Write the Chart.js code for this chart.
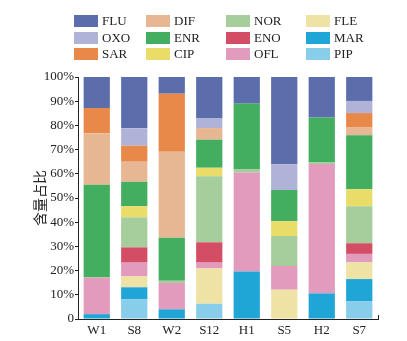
<!DOCTYPE html>
<html>
<head>
<meta charset="utf-8">
<script src="https://cdn.jsdelivr.net/npm/chart.js@4/dist/chart.umd.min.js"></script>
<style>
  html, body { margin: 0; padding: 0; background: #fff; }
  #wrap { position: relative; width: 407px; height: 341px; }
  #legend { position: absolute; left: 0; top: 0; width: 407px; height: 70px; }
  .item { position: absolute; height: 12px; font: 13px "Liberation Serif", serif; color: #222; line-height: 12px; white-space: nowrap; }
  .item span.box { display: inline-block; width: 24px; height: 12px; vertical-align: top; margin-right: 4px; }
  canvas { position: absolute; left: 0; top: 0; }
</style>
</head>
<body>
<div id="wrap">
  <canvas id="myChart" width="407" height="341"></canvas>
  <div id="legend"></div>
</div>
<script>
// samples
const sites = ["W1", "S8", "W2", "S12", "H1", "S5", "H2", "S7"];

// percentages per compound, one value per site (stacked from PIP at bottom to FLU at top)
const PIP = [0, 8.1, 0, 6.3, 0, 0, 0, 7.4];
const MAR = [2.0, 5.0, 4.0, 0, 19.6, 0, 10.6, 9.1];
const FLE = [0, 4.5, 0, 14.6, 0, 12.1, 0, 6.9];
const OFL = [15.0, 5.7, 10.9, 2.4, 40.9, 9.8, 53.4, 3.5];
const ENO = [0, 6.3, 0, 8.4, 0, 0, 0, 4.4];
const NOR = [0.3, 12.4, 0.9, 27.3, 1.5, 12.4, 0.7, 15.3];
const CIP = [0, 4.6, 0, 3.5, 0, 6.1, 0, 7.0];
const ENR = [38.2, 10.1, 17.8, 11.6, 27.0, 12.9, 18.6, 22.3];
const DIF = [21.2, 8.3, 35.5, 4.8, 0, 0, 0, 3.2];
const SAR = [10.5, 6.6, 24.0, 0, 0, 0, 0, 6.0];
const OXO = [0, 7.2, 0, 4.0, 0, 10.6, 0, 5.0];
const FLU = [12.8, 21.2, 6.9, 17.1, 11.0, 36.1, 16.7, 9.9];

const yTicks = [0, 10, 20, 30, 40, 50, 60, 70, 80, 90, 100];

const series = [
  { label: "PIP", data: PIP, color: "#88cde9" },
  { label: "MAR", data: MAR, color: "#1fa6d6" },
  { label: "FLE", data: FLE, color: "#eee3a5" },
  { label: "OFL", data: OFL, color: "#e29bbd" },
  { label: "ENO", data: ENO, color: "#d34e64" },
  { label: "NOR", data: NOR, color: "#a6cd9c" },
  { label: "CIP", data: CIP, color: "#e9dc68" },
  { label: "ENR", data: ENR, color: "#43ae5f" },
  { label: "DIF", data: DIF, color: "#e7b693" },
  { label: "SAR", data: SAR, color: "#e8894a" },
  { label: "OXO", data: OXO, color: "#aeb3d7" },
  { label: "FLU", data: FLU, color: "#5b6eab" }
];

// legend: column-major, top-left is FLU
function buildLegend() {
  let legend = document.getElementById("legend");
  let order = series.slice().reverse();
  let colX = [74, 146, 226, 306];
  let rowY = [15, 31.5, 48];
  order.forEach((s, i) => {
    let col = Math.floor(i / 3), row = i % 3;
    let div = document.createElement("div");
    div.className = "item";
    div.style.left = colX[col] + "px";
    div.style.top = rowY[row] + "px";
    div.innerHTML = '<span class="box" style="background:' + s.color + '"></span>' + s.label;
    legend.appendChild(div);
  });
}

const serif = { family: "'Liberation Serif', serif", size: 13 };

// small upward tick at the right end of the x axis
const axisEnd = {
  id: "axisEnd",
  afterDraw(chart) {
    let { ctx, chartArea } = chart;
    ctx.save();
    ctx.strokeStyle = "#222";
    ctx.lineWidth = 1;
    ctx.beginPath();
    ctx.moveTo(chartArea.right + 0.5, chartArea.bottom);
    ctx.lineTo(chartArea.right + 0.5, chartArea.bottom - 4);
    ctx.stroke();
    ctx.restore();
  }
};

function render() {
  let ctx = document.getElementById("myChart").getContext("2d");
  new Chart(ctx, {
    type: "bar",
    data: {
      labels: sites,
      datasets: series.map((s) => ({
        label: s.label,
        data: s.data,
        backgroundColor: s.color,
        borderWidth: 0,
        barPercentage: 0.7,
        categoryPercentage: 1.0
      }))
    },
    options: {
      responsive: false,
      animation: false,
      layout: { padding: { top: 77, right: 29, left: 0, bottom: 0 } },
      plugins: { legend: { display: false }, tooltip: { enabled: false } },
      scales: {
        x: {
          stacked: true,
          grid: { display: false, drawTicks: false },
          border: { color: "#222", width: 1 },
          ticks: { color: "#222", font: serif, padding: 4 },
          afterFit: (scale) => { scale.height = 22; }
        },
        y: {
          stacked: true,
          min: 0,
          max: 100,
          afterBuildTicks: (scale) => { scale.ticks = yTicks.map((v) => ({ value: v })); },
          grid: { display: true, drawOnChartArea: false, drawTicks: true, tickLength: 3, color: "#222" },
          border: { color: "#222", width: 1 },
          ticks: {
            color: "#222",
            font: serif,
            padding: 1,
            callback: (v) => (v === 0 ? "0" : v + "%")
          },
          title: {
            display: true,
            text: "含量占比",
            color: "#222",
            font: { family: "'Noto Sans CJK SC', sans-serif", size: 14 },
            padding: { top: 31, bottom: 0 }
          },
          afterFit: (scale) => { scale.width = 78; }
        }
      }
    },
    plugins: [axisEnd]
  });
}

buildLegend();
render();
</script>
</body>
</html>
